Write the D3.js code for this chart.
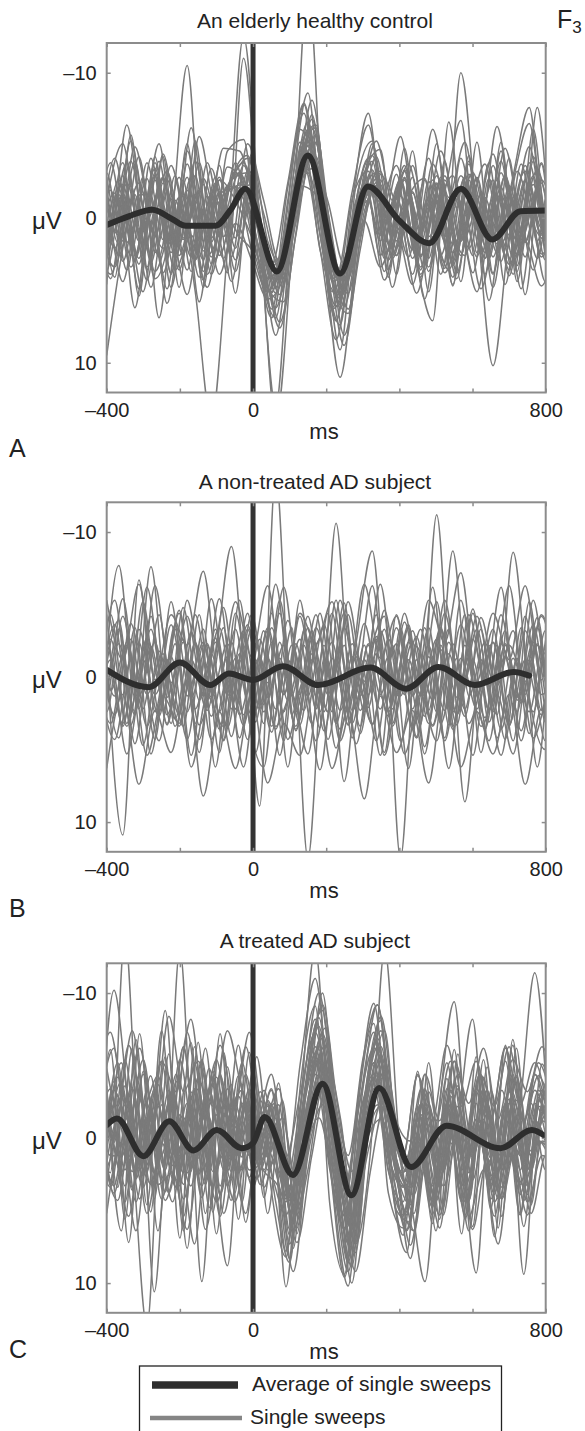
<!DOCTYPE html>
<html>
<head>
<meta charset="utf-8">
<script src="https://cdn.jsdelivr.net/npm/d3@7"></script>
<style>
body { margin: 0; background: #fff; }
svg text { font-family: "Liberation Sans", Arial, Helvetica, sans-serif; fill: #222; }
</style>
</head>
<body>
<svg id="chart" width="585" height="1431"></svg>
<script>
// axis ranges and tick labels
const timeDomain = [-400, 800];
const voltDomain = [-12.05, 12.05];   // negative up, as in the figure
const timeTicks = [-400, -200, 0, 200, 400, 600, 800];
const timeLabels = [-400, 0, 800];
const voltTicks = [-10, 0, 10];

const panelTitles = ['An elderly healthy control', 'A non-treated AD subject', 'A treated AD subject'];
const panelLetters = ['A', 'B', 'C'];
const legendLabels = ['Average of single sweeps', 'Single sweeps'];

// averages: [ms, uV]
const averageA = [[-400,0.5],[-340,-0.1],[-275,-0.55],[-220,0.1],[-184,0.55],[-102,0.55],[-60,-0.6],[-21,-2.0],[65,3.7],[150,-4.3],[238,3.85],[314,-2.15],[400,0.2],[482,1.75],[568,-2.0],[654,1.5],[731,-0.45],[800,-0.5]];
const averageB = [[-400,-0.5],[-285,0.7],[-200,-1.0],[-117,0.55],[-66,-0.25],[0,0.2],[82,-0.75],[178,0.55],[321,-0.65],[418,0.8],[507,-0.7],[606,0.55],[713,-0.35],[755,-0.1]];
const averageC = [[-400,-0.9],[-372,-1.35],[-300,1.25],[-229,-1.15],[-163,0.85],[-99,-0.55],[-31,0.7],[0,0.35],[32,-1.45],[109,2.55],[190,-3.75],[269,3.95],[345,-3.45],[432,2.0],[529,-0.85],[676,0.7],[762,-0.55],[800,-0.1]];

// single sweeps: [first sample ms, uV at successive turning points]
const stepA = 44;
const sweepsA = [
  [-422, [2.6,-4.1,1.3,-2.7,3.8,-0.6,2.9,-3.4,0.8, -3.6,0.4,5.2,-0.3,-6.1,-0.8,5.4,0.6,-3.3, 1.8,-2.6,3.4,-1.2,4.1,-3.0,0.9,-3.9,2.6,-0.9,1.9,-2.4]],
  [-422, [-4.6,0.9,-5.3,0.2,-2.8,2.6,-1.1,1.7,-3.5, -2.3,1.1,4.4,-1.2,-5.3,0.8,6.2,1.3,-2.4, 2.9,-0.8,3.9,-0.4,-2.9,2.1,-1.4,3.0,-3.2,0.5,1.7,-1.6]],
  [-422, [4.2,-1.3,3.4,0.2,2.1,-1.4,5.1,14,2.2, -12.5,0.3,14,2.1,-16,1.3,11,2.4,-5.1, 0.4,-3.2,4.1,-2.3,3.3,-1.2,2.4,-3.1,1.2,-2.3,2.1,0.3]],
  [-444, [1.3,-3.1,3.0,-1.6,4.2,0.5,-10.5,2.3,-1.8,2.9, -1.2,3.4,2.6,-4.3,-5.2,4.4,3.1,-2.3, 1.6,-3.0,2.8,-1.4,3.5,-4.1,0.7,-2.6,4.0,-1.8,2.7,-1.1]],
  [-400, [9.5,2.1,-2.4,1.3,-3.6,0.4,-2.3,2.6,-1.2,-2.3, 3.2,2.3,-3.1,-3.4,4.2,2.1,-2.4,1.2, -1.3,2.2,-1.4,3.1,-10,0.2,10.2,1.3,-3.2,1.1,-1.3,0.2]],
  [-411, [-4.4,1.8,-3.9,3.1,-2.6,1.5,-1.9,2.8,-2.7, -4.3,1.2,5.3,0.3,-6.2,-0.2,6.1,0.4,-4.2, 1.1,-1.9,3.6,-2.8,2.3,-2.5,1.9,-2.9,2.6,-7.6,1.2,-1.2]],
  [-433, [1.2,-1.9,3.6,-2.8,6.9,-1.2,2.7,-3.8,1.3, -2.4,1.1,6.3,-1.2,-7.8,0.3,7.1,-1.1,-7.2, 0.2,-2.6,3.2,7.1,-6.6,1.3,-1.6,2.4,-2.9,-7.6,1.2,0.2]],
  [-422, [0.6,3.4,-1.2,4.3,-2.4,1.9,-3.9,1.4,-2.2, -1.3,2.2,6.2,1.3,-4.2,-1.1,4.3,1.2,-2.4, 3.6,-2.7,1.8,-2.9,2.4,-0.2,-3.7,1.8,-1.1,3.6,-2.3,1.1]],
  [-400, [-2.8,1.6,-4.2,2.4,-1.3,3.6,-2.7,0.6,-3.8,1.2, 4.1,3.2,-3.2,-5.1,3.3,4.2,-1.2,-2.3, 2.6,-3.6,1.3,-1.8,-6.7,2.4,-1.3,3.6,-2.5,1.2,-2.8,1.3]],
  [-411, [3.7,-2.6,2.9,-4.1,1.6,-1.5,4.1,-2.4,2.7, -3.2,2.3,7.2,1.1,-7.1,1.3,4.2,-1.2,-3.1, 2.8,-1.4,-2.7,2.6,-1.3,3.8,-2.7,2.6,-3.7,1.6,-3.4,0.2]],
  [-433, [-1.6,4.2,-2.4,1.8,-3.9,2.8,-1.5,3.9,-1.2, -3.1,0.2,4.2,0.3,-5.1,2.2,5.2,-1.3,-3.2, 3.7,-1.5,2.7,-2.6,1.4,-2.8,2.5,-1.6,3.9,-2.4,2.9,-1.2]],
  [-444, [-2.6,3.6,-1.7,2.8,-2.9,4.8,-1.4,2.9,-2.6,-1.2, 1.3,4.2,2.1,-5.2,-4.1,5.1,2.2,-3.1, 2.6,-1.6,3.9,-2.5,1.6,-1.8,2.7,-3.6,1.5,-2.6,2.5,0.2]],
  [-422, [-5.8,0.3,-3.9,1.5,-2.7,3.6,-1.6,2.7,-1.8, -2.3,1.2,8.1,0.2,-5.2,1.3,9.1,-1.2,-4.3, 0.2,-3.6,2.7,-1.5,4.6,-2.6,2.8,-4.6,3.7,-6.1,2.6,-1.2]],
  [-400, [2.7,-1.6,4.9,-2.6,3.8,-3.7,1.6,-1.7,3.7,-2.2, 5.1,2.2,-4.1,-6.2,3.1,5.2,-1.1,-3.2, 1.6,-2.8,3.7,-1.6,2.6,-2.7,4.8,-1.6,2.7,-3.8,1.6,0.2]],
  [-411, [-3.7,2.6,-1.6,4.8,-1.8,2.6,-3.8,2.9,-2.6, -3.1,1.2,4.3,-1.2,-8.1,0.2,8.1,2.2,-3.1, -1.6,2.7,-2.6,3.9,-1.5,2.6,-3.8,4.6,-1.6,2.8,-2.6,0.2]],
  [-433, [2.6,-3.8,1.7,-1.6,2.7,-2.9,3.7,-1.5,2.8, -2.1,1.3,5.2,-2.1,-7.2,1.1,6.1,0.2,-2.2, 1.6,-2.7,2.8,-3.7,0.3,2.6,-1.6,1.8,-2.6,-6.5,0.2,-1.1]],
  [-422, [1.6,-1.7,2.6,-3.8,1.5,-2.8,2.9,-1.6,3.8, -11,1.2,13,0.2,-3.1,1.2,4.1,-1.2,-2.1, 1.7,-2.8,2.6,-1.6,1.8,-3.7,2.8,-1.5,1.6,-2.9,3.7,0.2]],
  [-444, [-1.6,2.7,-2.9,1.6,-3.8,1.7,-2.8,3.7,-1.6,-2.1, 2.2,5.1,1.2,-6.1,-3.2,6.2,2.1,-2.2, -1.6,2.6,-1.7,2.8,-2.6,1.6,-2.8,2.7,-1.7,1.6,-2.6,1.2]],
  [-411, [4.8,-1.6,2.9,-1.5,5.9,0.2,2.7,-2.8,1.6, -5.1,-1.2,3.1,0.3,-4.2,-1.1,3.2,1.1,-2.2, 2.6,-1.6,1.7,-2.6,3.8,-1.5,2.8,-2.9,1.5,-1.6,2.6,0.2]],
  [-433, [-2.6,0.4,-3.8,2.6,-1.6,1.7,-2.8,2.6,0.3, -3.1,2.2,5.1,0.2,-4.1,1.2,7.1,0.3,-4.1, 2.8,-1.5,1.6,-1.7,2.6,-2.8,1.5,-2.6,2.8,-3.8,1.5,0.2]],
  [-400, [-1.2,-5.1,0.8,-3.4,1.9,-4.6,0.4,-2.8,2.1,-4.2, 1.6,3.4,-2.3,-4.2,2.4,4.1,-2.3,-1.1, -3.6,0.8,-4.1,1.3,-2.9,-0.4,-4.4,1.2,-3.6,0.7,-4.2,-1.0]],
  [-444, [3.1,0.2,4.4,-0.8,3.7,1.1,5.3,-0.6,3.9,0.4, 2.9,5.6,4.1,-2.2,-1.6,6.3,4.4,0.2, 3.4,0.9,4.6,-0.7,3.8,1.2,5.1,-0.2,3.2,1.6,4.7,0.8]],
  [-411, [-2.1,1.2,-4.9,-0.6,-3.2,1.4,-5.6,-0.9,-2.7, -4.1,-0.3,3.6,-0.9,-6.8,-0.4,4.9,-0.8,-5.3, -1.2,-3.7,0.6,-4.6,-0.7,-3.1,0.9,-4.8,-0.2,-3.3,0.4,-2.0]],
  [-433, [0.7,3.9,0.2,5.1,-0.9,3.6,1.2,4.8,-0.4, 1.3,2.7,6.9,0.7,-3.6,2.1,8.4,1.8,-1.2, 4.3,0.6,5.2,1.3,3.6,-0.2,4.9,0.9,3.1,-0.7,4.4,1.0]],
  [-422, [-3.3,2.1,-2.2,3.4,-4.4,0.8,-2.9,3.9,-1.7, -3.8,0.6,4.8,-1.4,-6.6,0.9,5.6,-0.4,-3.9, 2.3,-3.3,1.1,-2.4,3.1,-3.9,1.9,-2.1,3.3,-4.2,0.7,-1.1]],
  [-400, [1.8,-2.3,3.2,-3.1,2.4,-1.9,4.3,-2.6,1.4,-3.2, 2.8,3.9,-1.8,-5.7,1.6,6.3,-0.4,-2.6, 2.1,-1.8,3.4,-2.9,1.6,-1.3,3.9,-2.2,1.7,-2.4,3.2,0.4]],
  [-411, [5.6,-2.1,6.2,-0.8,4.9,-2.6,5.8,-1.4,4.4, -1.9,3.1,7.6,1.2,-4.6,2.4,8.8,1.6,-2.7, 4.8,-1.2,5.6,-0.6,4.2,-2.4,5.7,-1.1,4.9,-2.2,5.3,0.4]],
  [-433, [-5.9,1.1,-6.4,-0.2,-5.1,1.8,-6.2,0.4,-4.8, -4.6,-0.6,3.2,-2.4,-7.9,-1.2,4.1,-1.8,-6.4, -0.9,-5.6,0.2,-6.1,-1.4,-5.2,0.6,-6.3,-0.8,-4.9,0.3,-1.9]],
  [-400, [4.6,-3.8,5.4,-4.2,3.9,-5.1,4.8,-3.6,5.2,-4.4, 4.9,5.8,-4.9,-6.4,4.4,6.6,-3.1,-4.7, 3.9,-4.6,5.1,-3.9,4.4,-5.2,3.8,-4.1,5.3,-3.7,4.6,-1.2]],
  [-422, [-4.9,4.1,-5.7,3.6,-4.2,4.8,-5.3,3.2,-4.6, -5.4,3.4,6.9,-2.1,-8.6,2.6,7.4,-2.4,-5.3, 4.1,-4.8,3.6,-5.1,4.7,-4.3,3.9,-5.2,4.4,-3.9,3.7,-1.4]]
];

const stepB = 44;
const sweepsB = [
  [-422, [2.4,-3.6,3.3,-2.7,1.4,-4.6,2.2,-1.6,3.5,-2.2, 8.9,-14,2.6,-3.4,3.7,-2.1,4.6,-1.3,2.7,-3.8, 1.2,-2.6,3.6,-1.4,2.8,-4.3,1.6,-2.4,3.2,-1.1]],
  [-433, [1.3,-2.6,3.4,-1.2,2.7,-3.6,1.4,-2.3,4.4,-1.6, 2.3,-3.4,1.6,-2.2,3.5,-10.6,2.3,-1.4,-4.2,12.5, -2.1,1.6,-3.3,8.6,-1.2,2.6,-8.6,1.4,5,2.2]],
  [-422, [-2.4,2.6,-3.7,1.2,-1.6,3.4,-2.3,2.7,-1.4,3.3, -2.6,2.2,-3.4,12.5,-1.3,3.6,-2.4,-8.7,2.4,-1.6, 3.3,-11.2,2.4,-1.3,3.6,-2.3,1.4,-3.6,2.2,0.2]],
  [-411, [3.4,-2.3,2.6,-7.6,1.4,-2.6,3.3,-1.4,-9,2.3, 6.2,-2.4,3.6,-1.2,2.4,-3.4,1.3,-2.6,3.4,-1.2, 2.7,-3.3,1.4,-2.6,2.3,-1.4,3.7,-2.2,1.3,-1.1]],
  [-400, [-1.2,10.9,-6.7,2.4,-3.6,1.3,-2.4,3.6,-1.3,2.6, -3.4,1.2,-2.6,4.4,-1.3,2.4,-3.7,1.2,-2.3,3.6, -1.4,2.3,-3.6,1.3,-2.4,3.3,-1.2,2.6,-2.3,1.1]],
  [-411, [2.3,-7.7,1.4,-3.3,2.6,-1.2,4.3,-2.4,1.3,-3.6, 2.4,-1.3,3.4,-2.6,1.2,-4.4,2.3,-1.6,3.2,-2.4, 1.3,-3.4,2.6,-1.2,4.4,-2.3,1.6,-3.4,2.2,0.1]],
  [-422, [-3.4,1.3,-2.6,3.4,-1.2,2.6,-4.3,1.4,-2.3,2.6, -1.4,3.6,-2.2,1.3,-3.6,2.3,-1.4,3.3,-2.6,1.2, -3.3,2.4,-8.7,1.3,-2.4,3.6,-1.2,2.4,-3.3,1.2]],
  [-433, [5.1,-4.3,3.2,-5.2,2.4,-3.3,5.4,-2.2,4.3,-5.3, 3.1,-4.4,6.2,-3.2,2.4,-5.3,4.2,-2.3,5.2,-3.4, 4.1,-6.2,3.3,-4.3,5.2,-2.2,4.4,-5.2,3.1,-2.1]],
  [-444, [-6.2,1.3,-5.4,2.2,-6.3,0.4,-4.2,1.3,-5.4,2.2, -3.3,0.4,-6.2,1.2,-4.3,2.4,-5.2,0.3,-6.4,1.2, -3.2,2.3,-5.3,1.4,-4.2,0.2,-6.3,1.2,-4.3,0.1]],
  [-400, [6.3,1.2,7.4,2.3,5.2,0.3,8.2,2.4,6.3,1.2, 7.3,3.2,5.4,0.2,6.3,2.2,8.4,1.3,5.2,2.3, 7.3,0.4,6.2,2.4,5.3,1.2,7.4,2.2,6.3,3.1]],
  [-411, [-2.3,4.2,-3.4,5.3,-1.2,3.4,-4.3,6.2,-2.4,4.3, -3.2,5.4,-2.3,3.2,-4.4,7.2,-1.3,4.4,-2.2,6.3, -3.4,3.2,-1.3,5.4,-2.2,4.3,-3.4,6.2,-2.3,3.1]],
  [-422, [1.2,-5.3,2.4,-6.2,0.3,-4.4,3.2,-5.4,1.3,-3.2, 2.2,-6.4,1.3,-4.2,2.4,-5.3,0.2,-6.3,2.2,-4.4, 1.3,-5.2,3.4,-4.3,0.2,-6.2,2.4,-5.3,1.2,-2.1]],
  [-433, [3.4,-1.2,5.3,0.2,4.4,-2.3,6.2,1.3,3.4,-1.2, 5.2,-2.4,4.3,0.2,6.4,-1.3,3.2,-2.2,5.4,0.3, 4.2,-1.4,6.3,-2.2,3.4,1.2,5.3,-1.2,4.4,0.1]],
  [-444, [-3.3,2.4,-4.2,1.3,-2.4,3.2,-5.3,0.2,-3.4,2.2, -4.3,1.4,-2.2,3.3,-3.4,0.2,-4.3,2.4,-3.2,1.3, -2.4,3.2,-4.4,1.2,-3.3,2.4,-2.2,0.3,-4.2,1.1]],
  [-400, [-4.3,3.2,-2.4,4.3,-5.2,2.4,-3.3,5.2,-4.4,1.3, -3.2,4.4,-5.3,2.2,-4.4,3.3,-2.2,5.4,-4.3,2.2, -3.4,4.2,-5.3,1.2,-3.3,3.4,-4.2,2.3,-3.2,1.1]],
  [-411, [4.2,-3.3,2.4,-4.2,3.3,-2.4,5.2,-3.3,2.2,-4.4, 3.2,-5.3,2.4,-3.2,4.3,-2.2,3.4,-4.3,2.2,-3.4, 5.3,-2.2,3.3,-4.4,2.3,-3.2,4.4,-2.3,3.2,-1.1]],
  [-433, [-1.3,3.2,-2.4,2.2,-4.3,3.4,-1.2,2.3,-3.4,4.2, -2.3,3.4,-1.2,2.3,-4.4,3.2,-2.3,1.2,-3.3,4.4, -1.2,3.3,-2.4,2.2,-3.3,4.2,-1.3,2.4,-3.2,1.1]],
  [-422, [0.2,4.3,-1.2,5.4,1.3,3.2,-2.4,4.3,0.2,6.2, -1.3,3.4,1.2,5.3,-2.2,4.4,0.3,3.2,-1.4,5.3, 1.2,4.4,-2.3,3.2,0.2,5.4,-1.3,4.2,1.3,2.1]],
  [-400, [-5.3,-1.2,-6.4,0.2,-4.3,-2.2,-7.3,0.3,-5.2,-1.4, -6.3,1.2,-4.4,-2.3,-5.2,0.2,-6.4,-1.3,-4.2,1.2, -5.3,-2.4,-7.2,0.3,-4.4,-1.2,-6.3,0.2,-5.2,-1.1]],
  [-444, [2.3,-2.2,3.4,-3.3,1.2,-1.4,4.3,-2.2,2.4,-3.3, 3.2,-1.3,2.4,-4.2,1.3,-2.4,3.3,-1.2,2.2,-3.4, 1.3,-2.2,4.4,-1.3,2.2,-2.4,3.3,-3.2,1.2,0.1]],
  [-411, [0.8,-3.9,4.6,-2.1,3.2,-4.8,1.6,-2.7,4.1,-3.3, 1.9,-4.4,3.7,-1.6,2.4,-5.1,3.9,-2.8,1.4,-3.6, 4.8,-1.9,2.6,-4.7,3.1,-2.2,1.8,-4.1,3.6,-0.9]],
  [-433, [-3.6,0.9,-2.2,4.7,-1.8,2.9,-3.1,1.6,-4.8,2.6, -1.2,3.8,-3.9,0.7,-2.6,4.9,-1.4,2.1,-4.6,1.3, -2.8,3.4,-1.6,2.7,-4.1,0.6,-3.2,3.9,-1.7,0.4]]
];

const stepC = 40;
const sweepsC = [
  [-410, [2.3,-4.2,1.4,13,-2.3,3.4,-3.2,2.4,-4.3,1.2, -3.4,2.2,-2.3,5.2,0.3,-6.2,1.4,6.3,-1.2,-5.3, 1.3,4.2,9.9,-2.2,-9.4,1.3,-3.4,2.2,-2.4,3.3, -1.2,0.1]],
  [-420, [1.2,-10.2,-2.3,3.4,-2.2,2.4,-4.3,9.9,-3.2,2.3, -4.4,1.3,-2.2,4.3,-1.4,-5.3,0.2,7.3,-1.2,-6.3, 0.3,3.2,-2.4,2.3,-3.2,1.4,-4.3,2.2,-3.3,9.4, -2.2,0.1]],
  [-430, [-2.2,2.4,-14,1.3,3.3,-2.4,3.2,-3.4,2.3,-1.2, -3.3,1.2,-2.4,10.25,-2.2,-13,0.3,6.2,-1.3,-4.4, 1.2,3.3,-2.2,4.3,-3.4,2.2,-1.3,3.4,-2.2,1.2, -3.3,0.1]],
  [-430, [1.3,-3.4,2.2,-4.3,10.6,-1.2,2.4,-4.2,1.3,8.8, -2.4,0.2,-3.3,4.2,-1.3,-5.4,1.2,5.3,0.2,-5.2, 2.3,4.4,-1.2,3.3,-2.4,1.2,9.3,-3.3,2.2,-2.4, -11.4,0.1]],
  [-400, [3.3,-2.2,4.4,-1.3,2.2,-13,1.3,-3.4,2.2,-4.3, 1.2,-2.3,2.4,6.2,-3.3,-6.4,2.2,7.3,1.2,-13, 0.3,5.2,-2.4,3.3,-1.2,-8.2,2.3,-3.3,1.2,-2.4, 2.2,0.1]],
  [-410, [-4.3,1.2,-3.4,2.3,-5.2,1.4,-2.3,3.2,-4.4,2.2, -1.3,3.4,0.2,4.3,-2.4,-7.2,-1.3,5.4,-2.2,-6.3, 1.2,3.4,-3.3,2.2,-2.4,4.3,-3.2,1.3,-4.4,2.2, -3.3,1.1]],
  [-420, [2.2,-3.3,-1.2,-5.4,1.3,-3.2,2.4,-1.3,-4.2,1.4, -2.3,2.2,-1.4,6.3,0.2,-4.4,2.3,8.2,0.3,-3.4, 1.2,5.3,-1.4,3.2,-2.3,4.4,-1.2,3.3,-2.4,1.2, -3.3,0.1]],
  [-430, [-1.2,3.4,-2.3,4.2,-3.4,1.2,-6.3,2.4,-4.2,3.3, -2.2,1.4,-1.3,3.2,-2.4,-8.2,-1.3,4.4,-2.2,-7.3, 0.2,2.4,-1.3,4.2,-2.4,3.3,-3.2,1.4,-5.3,2.2, -2.4,1.1]],
  [-400, [5.2,0.3,6.4,-1.2,4.3,1.2,7.3,-1.4,5.2,0.3, 3.4,-1.2,2.3,7.2,1.3,-3.4,3.2,9.2,2.4,-2.2, 1.3,6.4,0.2,5.3,-1.2,6.3,1.4,4.2,0.3,5.2, 1.2,2.1]],
  [-410, [-6.3,-2.2,-7.4,-1.2,-5.3,-3.2,-8.2,-1.3,-6.4,-2.2, -7.3,-1.2,-3.4,2.2,-4.3,-9.2,-2.4,2.3,-3.2,-8.4, -1.3,0.2,-4.4,-1.2,-5.3,-2.4,-6.2,-1.3,-5.4,-3.2, -6.3,-2.1]],
  [-420, [4.3,1.2,5.4,-1.3,3.2,2.4,6.3,0.2,4.4,1.3, 5.2,-1.4,1.2,8.3,-2.2,-5.4,1.3,7.2,-2.4,-4.3, 2.2,6.4,1.3,4.2,0.3,5.3,-1.2,4.4,1.2,3.3, 0.2,2.1]],
  [-430, [-3.2,-7.3,-2.4,-6.2,-1.3,-8.4,-3.2,-5.3,-2.2,-7.4, -3.3,-1.2,-4.4,1.3,-3.2,-7.3,-2.2,3.4,-2.3,-6.2, -3.4,1.2,-4.3,-1.2,-6.4,-2.2,-5.3,-1.4,-6.2,-2.3, -5.2,-1.1]],
  [-400, [0.3,-5.2,1.4,-4.3,2.2,-5.4,0.2,-3.3,1.2,-6.4, 2.3,-2.2,1.4,5.3,-1.2,-6.3,1.3,7.2,-1.4,-5.3, 0.2,3.4,-3.2,1.3,-4.4,0.2,-3.3,2.2,-4.3,1.2, -3.3,0.1]],
  [-410, [3.4,-1.2,2.3,-2.4,4.2,0.3,3.3,-2.2,5.4,-1.3, 2.2,1.4,-1.2,6.3,2.2,-3.4,1.2,8.3,0.2,-2.2, 1.3,7.4,2.2,5.3,0.2,6.4,-1.3,4.2,1.4,5.3, 0.2,1.1]],
  [-420, [-2.3,-6.2,1.3,-4.4,0.2,-3.3,1.2,-5.4,2.2,-2.4, 0.3,-3.2,1.4,4.3,-3.2,-8.3,0.2,5.4,-3.3,-9.2, -1.2,2.3,-2.4,1.2,-3.3,0.2,-4.4,1.3,-3.2,-1.2, -4.3,-1.1]],
  [-430, [2.2,-2.4,3.3,-1.2,2.4,-3.3,4.2,0.3,3.4,-2.2, 1.3,-1.2,2.4,5.3,0.2,-4.4,2.2,6.3,1.2,-3.4, 2.2,5.3,0.2,4.4,-1.2,3.3,-2.4,4.2,0.3,3.2, -1.2,1.1]],
  [-400, [-3.2,2.4,-4.3,1.2,-8.8,3.3,-5.2,2.3,-3.4,1.2, -4.3,2.2,0.3,4.4,-2.2,-5.3,-1.2,6.4,-2.3,-4.2, 0.3,3.4,-2.2,2.3,-3.4,1.2,-2.3,3.4,-4.2,2.2, -2.3,0.1]],
  [-410, [1.2,4.3,-1.4,5.2,0.3,3.4,-2.2,6.3,1.2,4.4, 0.2,2.3,3.4,9.2,1.2,-2.3,2.4,10,0.2,-1.3, 2.2,8.3,1.4,6.2,-1.3,5.4,2.2,7.3,0.2,4.4, 1.2,2.1]],
  [-420, [-5.2,0.3,-6.4,-2.2,-4.3,1.2,-7.3,-1.2,-5.4,0.2, -6.3,-1.2,-2.4,3.3,-4.2,-10,-3.3,1.2,-5.4,-9.2, -2.2,1.3,-3.4,-1.2,-5.3,0.2,-4.4,-2.2,-6.3,-1.2, -5.2,-2.1]],
  [-430, [3.3,-2.2,4.4,-3.2,2.3,-1.2,5.4,-2.2,3.3,-3.4, 2.2,-1.3,1.2,4.4,-1.2,-6.3,0.2,5.4,1.3,-5.2, 1.2,3.4,0.2,5.3,-2.2,4.4,-1.3,3.2,-2.4,5.3, -1.2,1.1]],
  [-400, [-1.2,1.3,-2.4,3.2,-1.3,2.2,-3.4,1.2,-2.3,2.4, -1.2,1.3,-1.4,3.3,-1.2,-4.4,0.2,4.3,0.3,-3.2, 1.3,2.2,-1.4,2.3,-2.2,1.3,-2.4,2.2,-1.3,1.2, -2.2,0.1]],
  [-410, [2.3,-5.2,3.4,-3.3,1.2,-4.4,2.3,-6.2,3.3,-2.4, 1.2,-3.3,2.2,3.4,-2.3,-10,1.2,6.3,-3.2,-7.4, 2.2,2.3,-3.4,3.2,-5.3,2.4,-4.2,3.3,-6.4,2.2, -3.3,1.1]],
  [-420, [-1.2,3.3,-2.4,2.2,0.3,4.4,-1.2,3.3,-2.2,4.3, -1.4,3.2,0.2,7.3,1.2,-1.4,3.3,9.2,1.2,-2.3, 2.2,6.3,0.2,4.4,-1.2,3.3,0.2,5.4,-1.2,4.3, 0.2,1.1]],
  [-430, [-4.3,1.2,-5.4,2.2,-3.3,0.2,-6.3,1.4,-4.2,2.3, -5.2,0.3,-3.4,2.2,-5.3,-11,-2.4,4.3,-3.2,-9.3, -1.2,1.3,-4.4,0.2,-5.2,1.3,-3.4,-1.2,-6.3,0.2, -4.4,-1.1]],
  [-410, [1.8,-2.9,3.6,-1.4,2.8,-3.9,1.1,-2.6,3.9,-0.8, 2.7,-1.9,0.6,5.8,-1.7,-6.9,0.8,7.6,-0.6,-5.8, 1.9,4.6,-2.1,2.9,-1.8,3.7,-2.8,1.6,-3.1,2.6, -1.8,0.6]],
  [-420, [-2.7,3.8,-1.1,2.6,-3.7,1.9,-2.4,4.1,-1.6,2.9, -2.8,1.6,-0.9,6.7,-2.6,-7.7,1.1,8.6,-1.9,-6.9, 0.8,5.1,-1.6,3.8,-2.9,2.1,-1.1,3.9,-2.7,1.8, -2.6,0.7]],
  [-400, [0.9,-3.9,2.8,-2.1,3.7,-1.6,2.1,-4.8,0.6,-2.9, 1.8,-2.6,1.9,4.9,-0.8,-4.9,1.6,6.1,-1.1,-4.6, 2.8,3.9,-0.9,2.1,-3.6,2.9,-1.7,4.1,-2.6,0.9, -1.6,0.4]],
  [-430, [-0.6,2.9,-3.6,1.7,-2.1,3.8,-1.4,2.6,-4.6,1.9, -1.1,2.8,-0.6,7.8,-0.9,-5.8,1.9,9.6,0.8,-4.1, 1.6,6.7,-0.4,4.8,-1.9,4.1,-0.8,2.6,-2.1,3.9, -0.9,0.6]],
  [-410, [-7.1,3.4,-6.2,4.6,-7.4,2.9,-6.6,5.2,-7.2,3.8, -5.9,4.1,-3.8,7.6,-4.9,-8.8,2.4,8.9,-3.6,-8.1, 4.9,5.8,-4.4,5.6,-6.1,4.3,-5.4,6.2,-6.8,3.9, -5.1,1.2]],
  [-420, [6.1,-3.9,7.2,-4.6,6.4,-3.1,7.6,-5.2,6.6,-3.7, 5.8,-2.6,4.1,8.6,-2.9,-6.1,3.8,10.2,-1.6,-6.6, 3.4,7.9,-2.2,6.4,-3.9,5.6,-4.2,6.8,-3.4,6.1, -2.8,1.4]],
  [-400, [-3.6,6.4,-6.8,5.1,-5.6,6.9,-6.3,4.8,-5.9,5.6, -4.8,5.2,-2.6,6.6,-4.4,-7.6,3.1,7.9,-2.9,-7.4, 3.6,6.4,-5.2,4.8,-5.8,6.1,-4.9,5.4,-6.2,4.6, -3.8,0.8]],
  [-430, [4.8,-6.1,5.6,-7.2,4.2,-5.8,6.4,-6.6,5.1,-4.9, 4.4,-5.6,3.6,8.2,-3.8,-9.1,4.6,9.4,-2.8,-7.9, 3.8,6.2,-4.6,5.9,-4.1,6.6,-5.6,4.9,-6.4,5.2, -4.4,1.1]]
];

// layout
const boxLeft = 106.7, boxRight = 545.7, boxH = 349.5;
const panels = [
  { sweeps: sweepsA, step: stepA, avg: averageA, top: 43,    titleY: 28,  letterY: 457 },
  { sweeps: sweepsB, step: stepB, avg: averageB, top: 502.3, titleY: 489, letterY: 917 },
  { sweeps: sweepsC, step: stepC, avg: averageC, top: 963.3, titleY: 948, letterY: 1358 }
];

const sweepColor = '#7a7a7a';
const avgColor = '#2e2e2e';
const frameColor = '#8c8c8c';
const fmt = d => d < 0 ? '\u2013' + Math.abs(d) : String(d);

const svg = d3.select('#chart');
const defs = svg.append('defs');

const x = d3.scaleLinear().domain(timeDomain).range([boxLeft, boxRight]);

panels.forEach((p, k) => {
    const top = p.top, bottom = p.top + boxH;
    const y = d3.scaleLinear().domain(voltDomain).range([top, bottom]);

    defs.append('clipPath').attr('id', 'clip' + k)
        .append('rect')
        .attr('x', boxLeft).attr('y', top)
        .attr('width', boxRight - boxLeft).attr('height', boxH);

    const line = d3.line()
        .x(d => x(d[0]))
        .y(d => y(d[1]))
        .curve(d3.curveMonotoneX);

    const plot = svg.append('g').attr('clip-path', `url(#clip${k})`);

    // single sweeps
    plot.selectAll('path.sweep')
        .data(p.sweeps)
        .join('path')
        .attr('class', 'sweep')
        .attr('fill', 'none')
        .attr('stroke', sweepColor)
        .attr('stroke-width', 1.5)
        .attr('d', s => line(s[1].map((v, i) => [s[0] + i * p.step, v])));

    // stimulus onset
    plot.append('line')
        .attr('x1', x(0)).attr('x2', x(0))
        .attr('y1', top).attr('y2', bottom)
        .attr('stroke', '#333')
        .attr('stroke-width', 5);

    // average
    plot.append('path')
        .datum(p.avg)
        .attr('fill', 'none')
        .attr('stroke', avgColor)
        .attr('stroke-width', 6)
        .attr('stroke-linecap', 'round')
        .attr('stroke-linejoin', 'round')
        .attr('d', line);

    // frame
    svg.append('rect')
        .attr('x', boxLeft).attr('y', top)
        .attr('width', boxRight - boxLeft).attr('height', boxH)
        .attr('fill', 'none')
        .attr('stroke', frameColor)
        .attr('stroke-width', 2);

    // inward tick marks on all four sides
    const tickAxes = [
        [d3.axisBottom(x).tickValues(timeTicks), `translate(0,${top})`],
        [d3.axisTop(x).tickValues(timeTicks), `translate(0,${bottom})`],
        [d3.axisRight(y).tickValues(voltTicks), `translate(${boxLeft},0)`],
        [d3.axisLeft(y).tickValues(voltTicks), `translate(${boxRight},0)`]
    ];
    tickAxes.forEach(([ax, tr]) => {
        const a = svg.append('g').attr('transform', tr)
            .call(ax.tickSize(4).tickSizeOuter(0).tickFormat(''));
        a.select('.domain').remove();
        a.selectAll('line').attr('stroke', frameColor).attr('stroke-width', 1.5);
    });

    // tick labels
    const xl = svg.append('g').attr('transform', `translate(0,${bottom})`)
        .call(d3.axisBottom(x).tickValues(timeLabels).tickSize(0).tickPadding(10).tickFormat(fmt));
    xl.select('.domain').remove();
    xl.selectAll('text').attr('font-size', 20).attr('font-family', null).attr('fill', '#222');

    const yl = svg.append('g').attr('transform', `translate(${boxLeft},0)`)
        .call(d3.axisLeft(y).tickValues(voltTicks).tickSize(0).tickPadding(10).tickFormat(fmt));
    yl.select('.domain').remove();
    yl.selectAll('text').attr('font-size', 20).attr('font-family', null).attr('fill', '#222');

    // axis names
    svg.append('text')
        .attr('x', 32).attr('y', y(0) + 11)
        .attr('font-size', 24)
        .text('\u03BCV');
    svg.append('text')
        .attr('x', 324).attr('y', bottom + 46)
        .attr('text-anchor', 'middle')
        .attr('font-size', 22)
        .text('ms');

    // title and panel letter
    svg.append('text')
        .attr('x', 315).attr('y', p.titleY)
        .attr('text-anchor', 'middle')
        .attr('font-size', 21)
        .text(panelTitles[k]);
    svg.append('text')
        .attr('x', 9).attr('y', p.letterY)
        .attr('font-size', 25)
        .text(panelLetters[k]);
});

// electrode label
const f3 = svg.append('text').attr('x', 557).attr('y', 28).attr('font-size', 25);
f3.append('tspan').text('F');
f3.append('tspan').attr('font-size', 17).attr('dy', 5).text('3');

// legend
const legend = svg.append('g');
legend.append('rect')
    .attr('x', 139.5).attr('y', 1366)
    .attr('width', 362).attr('height', 90)
    .attr('fill', '#fff')
    .attr('stroke', '#222')
    .attr('stroke-width', 1.3);
const legendStyles = [
    { color: avgColor, width: 7.5, y: 1385, x1: 152, x2: 238 },
    { color: '#858585', width: 4.5, y: 1418, x1: 150, x2: 242 }
];
legendStyles.forEach((s, i) => {
    legend.append('line')
        .attr('x1', s.x1).attr('x2', s.x2)
        .attr('y1', s.y).attr('y2', s.y)
        .attr('stroke', s.color)
        .attr('stroke-width', s.width);
    legend.append('text')
        .attr('x', i === 0 ? 252 : 250)
        .attr('y', s.y + 6)
        .attr('font-size', 21)
        .text(legendLabels[i]);
});
</script>
</body>
</html>
